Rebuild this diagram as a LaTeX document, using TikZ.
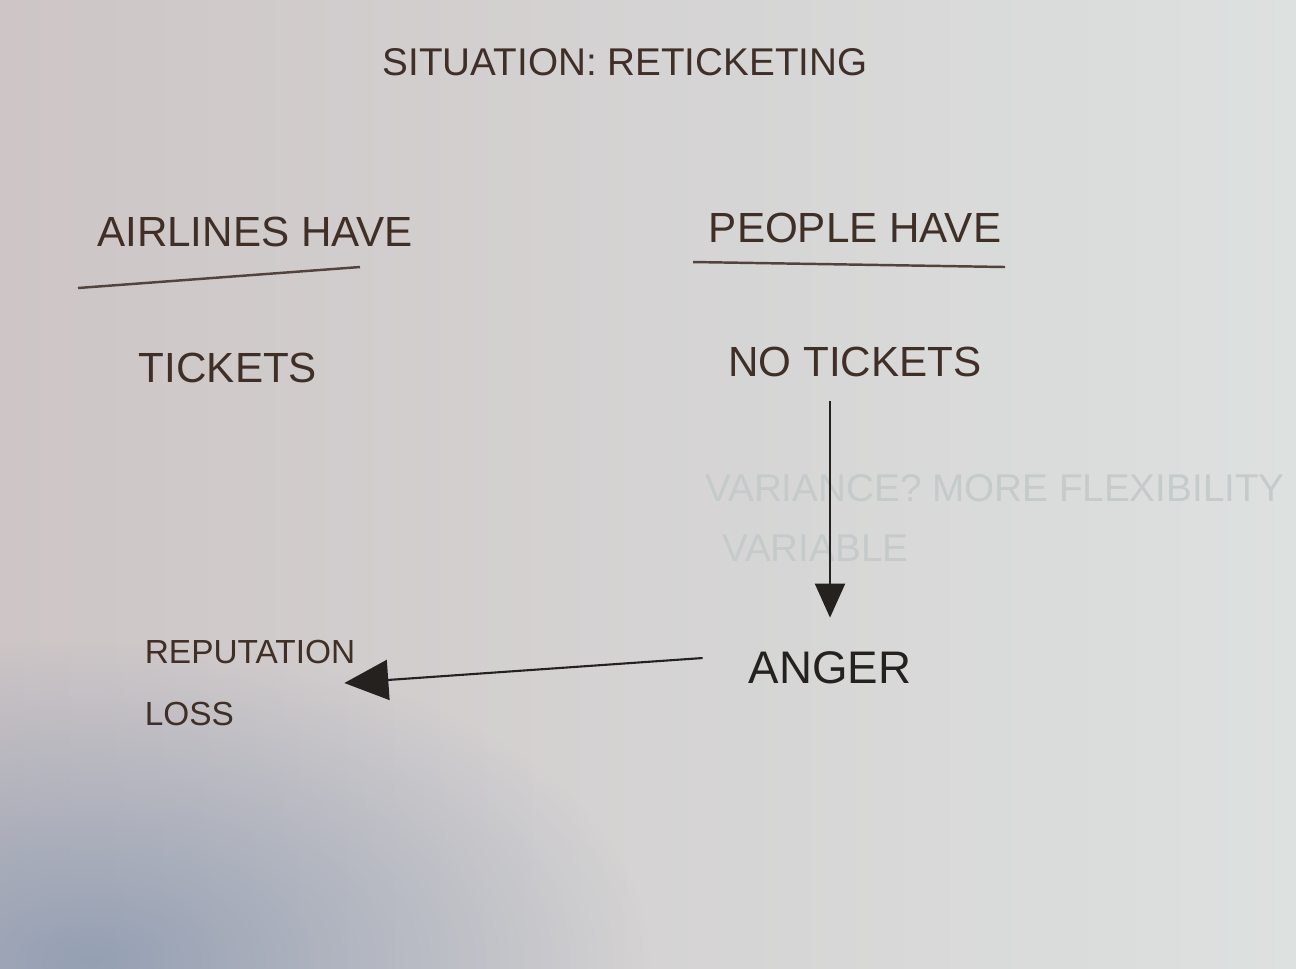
\documentclass[tikz,border=0pt]{standalone}
\usepackage{fontspec}
\setmainfont{Liberation Sans}
\usetikzlibrary{arrows.meta,positioning,calc,fadings}
\definecolor{paperl}{HTML}{CDC5C6}
\definecolor{paperr}{HTML}{DDE1E0}
\definecolor{shadow}{HTML}{6F86A6}
\definecolor{ink}{HTML}{3F2F27}
\definecolor{pencil}{HTML}{24211F}
\definecolor{ghost}{HTML}{C5CACA}
\tikzfading[name=blob,inner color=transparent!0,outer color=transparent!100]

\begin{document}
\begin{tikzpicture}[x=0.1mm,y=-0.1mm,
    every node/.style={align=left,inner sep=1pt},
    hand/.style={text=ink,font=\fontsize{12}{14}\selectfont},
    faint/.style={text=ghost,font=\fontsize{11}{13}\selectfont},
    rule/.style={draw=ink!90,line width=0.7pt},
    link/.style={draw=pencil,line width=0.6pt}]
      \useasboundingbox (0,0) rectangle (1296,968);
      % paper
      \begin{scope}
        \clip (0,0) rectangle (1296,968);
        \shade[left color=paperl,right color=paperr] (0,0) rectangle (1296,968);
        \fill[shadow,opacity=0.6,path fading=blob]
          (90,960) ellipse [x radius=560, y radius=320];
      \end{scope}

      \node[hand,font=\fontsize{11}{13}\selectfont] (title) at (625,62) {SITUATION: RETICKETING};

      \node[hand] (airlines) at (255,232) {AIRLINES HAVE};
      \draw[rule] (78,288) -- (360,267);
      \node[hand] (people) at (855,228) {PEOPLE HAVE};
      \draw[rule] (693,262) -- (1005,267);

      \node[hand] (tickets) at (228,368) {TICKETS};
      \node[hand] (notickets) at (855,362) {NO TICKETS};

      % erased notes
      \node[faint] (variance) at (995,488) {VARIANCE? MORE FLEXIBILITY};
      \node[faint,anchor=west] (variable) at (718,548) {VARIABLE};

      \node[hand,text=pencil,font=\fontsize{13}{15}\selectfont] (anger) at (830,668) {ANGER};
      \node[hand,font=\fontsize{9.5}{17.6}\selectfont] (reputation) at (250,683) {REPUTATION\\LOSS};

      \draw[link,-{Triangle[length=3.4mm,width=3mm]}]
        ($(notickets.south)+(-25,20)$) -- ($(anger.north)+(0,-30)$);
      \draw[link,-{Triangle[length=4.4mm,width=4mm]}]
        ($(anger.west)+(-42,-10)$) -- ($(reputation.east)+(-15,0)$);
    \end{tikzpicture}
\end{document}
